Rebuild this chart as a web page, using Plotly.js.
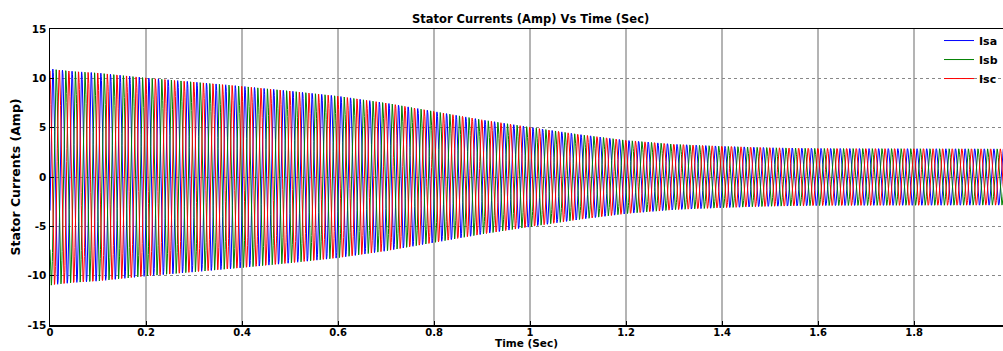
<!DOCTYPE html>
<html>
<head>
<meta charset="utf-8">
<script src="https://cdn.plot.ly/plotly-3.0.1.min.js"></script>
<style>
  html, body { margin: 0; padding: 0; background: #fff; overflow: hidden; }
  #chart { width: 1003px; height: 351px; }
</style>
</head>
<body>
<div id="chart"></div>
<script>
// Envelope of the stator current peaks (Amp) at these times (Sec)
const envTime = [0, 0.01, 0.05, 0.1, 0.2, 0.3, 0.4, 0.5, 0.6, 0.7, 0.8, 0.9, 1.0, 1.1, 1.2, 1.3, 1.4, 1.5, 1.6, 1.7, 1.8, 1.9, 2.0];
const envAmp  = [11.0, 10.9, 10.7, 10.55, 10.05, 9.63, 9.2, 8.72, 8.2, 7.5, 6.65, 5.8, 5.05, 4.33, 3.72, 3.32, 3.12, 2.97, 2.9, 2.88, 2.87, 2.86, 2.85];
// Supply frequency (Hz) and time of the first Isa peak, read from the peak spacing
const supplyHz = 50;
const firstPeakIsa = 0.006;
const seriesNames = ["Isa", "Isb", "Isc"];
const seriesColors = ["#0000ff", "#008000", "#ff0000"];
const phaseLagDeg = [0, 120, 240];
const xTicks = [0, 0.2, 0.4, 0.6, 0.8, 1, 1.2, 1.4, 1.6, 1.8];
const yTicks = [-15, -10, -5, 0, 5, 10, 15];

function envAt(t) {
  for (let i = 0; i < envTime.length - 1; i++) {
    if (t <= envTime[i + 1]) {
      const f = (t - envTime[i]) / (envTime[i + 1] - envTime[i]);
      return envAmp[i] + f * (envAmp[i + 1] - envAmp[i]);
    }
  }
  return envAmp[envAmp.length - 1];
}

const dt = 0.0004;
const N = Math.round(2 / dt);
const traces = seriesNames.map((name, k) => {
  const x = [], y = [];
  for (let i = 0; i <= N; i++) {
    const t = i * dt;
    x.push(t);
    const ph = 2 * Math.PI * supplyHz * (t - firstPeakIsa) - phaseLagDeg[k] * Math.PI / 180;
    y.push(envAt(t) * Math.cos(ph));
  }
  return { type: "scatter", mode: "lines", name: name, x: x, y: y,
           line: { color: seriesColors[k], width: 1 } };
});

const fontFam = "DejaVu Sans, Liberation Sans, Arial, sans-serif";
const layout = {
  width: 1003, height: 351,
  margin: { l: 50, r: 0, t: 29, b: 26 },
  paper_bgcolor: "#ffffff", plot_bgcolor: "#ffffff",
  font: { family: fontFam, size: 10, color: "#000" },
  title: { text: "<b>Stator Currents (Amp) Vs Time (Sec)</b>", font: { family: fontFam, size: 11.5, color: "#000" },
           x: 0.529, xanchor: "center", y: 0.946, yanchor: "middle" },
  showlegend: true,
  legend: { x: 1, xanchor: "right", y: 1.01, yanchor: "top", bgcolor: "rgba(255,255,255,0)",
            font: { family: fontFam, size: 11, color: "#000", weight: "bold" },
            tracegroupgap: 0, itemwidth: 30 },
  xaxis: {
    range: [0, 1.985], tickvals: xTicks, ticktext: xTicks.map(v => "<b>" + v + "</b>"),
    showgrid: true, gridcolor: "#b4b4b4", gridwidth: 1.5,
    showline: true, linecolor: "#000", linewidth: 1.5, mirror: true,
    ticks: "inside", ticklen: 4, tickcolor: "#000", zeroline: false,
    ticklabelstandoff: -3,
    tickfont: { family: fontFam, size: 10, color: "#000" },
    title: { text: "<b>Time (Sec)</b>", font: { family: fontFam, size: 10.5, color: "#000" }, standoff: 0 }
  },
  yaxis: {
    range: [-15, 15], tickvals: yTicks, ticktext: yTicks.map(v => "<b>" + v + "</b>"),
    showgrid: true, gridcolor: "#888888", gridwidth: 1, griddash: "dot",
    showline: true, linecolor: "#000", linewidth: 1.5, mirror: false,
    ticks: "inside", ticklen: 4, tickcolor: "#000", zeroline: false,
    tickfont: { family: fontFam, size: 10.5, color: "#000" },
    title: { text: "<b>Stator Currents (Amp)</b>", font: { family: fontFam, size: 12.5, color: "#000" }, standoff: 4 }
  }
};

Plotly.newPlot("chart", traces, layout, { displayModeBar: false, staticPlot: true });
</script>
</body>
</html>
